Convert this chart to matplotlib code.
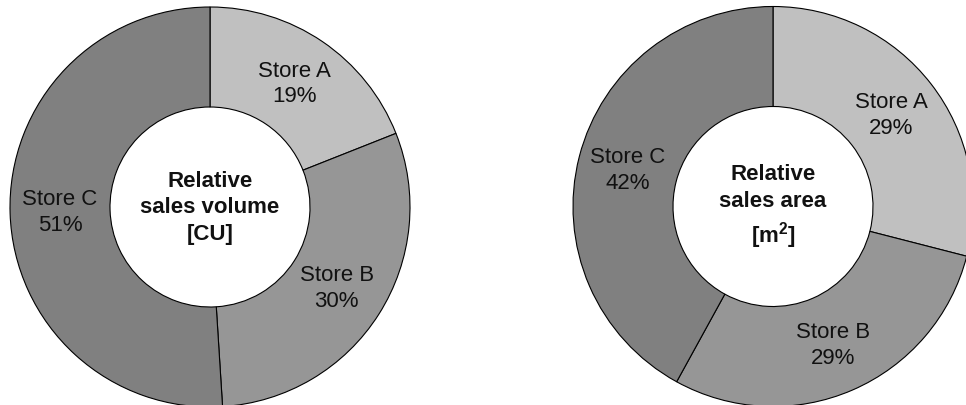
import matplotlib
matplotlib.use("Agg")
import matplotlib.pyplot as plt
import numpy as np

plt.rcParams['font.family'] = ['Liberation Sans', 'DejaVu Sans']
plt.rcParams['mathtext.fontset'] = 'custom'
plt.rcParams['mathtext.rm'] = 'Liberation Sans'
plt.rcParams['mathtext.bf'] = 'Liberation Sans:bold'

stores = ["Store A", "Store B", "Store C"]
volume_share = [19, 30, 51]
area_share = [29, 29, 42]
colors = ["#c0c0c0", "#969696", "#808080"]

W, H = 966, 406


def donut(ax, values, title):
    wedges, _ = ax.pie(values, colors=colors, startangle=90, counterclock=False,
                       radius=1.0,
                       wedgeprops=dict(width=0.5, edgecolor="black", linewidth=0.8))
    for w, name, v in zip(wedges, stores, values):
        ang = np.deg2rad((w.theta1 + w.theta2) / 2)
        ax.text(0.75 * np.cos(ang), 0.75 * np.sin(ang), f"{name}\n{v}%",
                ha="center", va="center", fontsize=16, linespacing=1.3,
                color="#111111")
    ax.text(0, 0, title, ha="center", va="center", fontsize=16,
            fontweight="bold", linespacing=1.35, color="#111111")
    ax.set_xlim(-1, 1)
    ax.set_ylim(-1, 1)
    ax.set_aspect("equal")
    ax.axis("off")


fig = plt.figure(figsize=(W / 100, H / 100), dpi=100)

# both rings are 400 px across, placed by their centres
for cx, cy, vals, title in [(210, 208, volume_share, "Relative\nsales volume\n[CU]"),
                            (773, 207.5, area_share, "Relative\nsales area\n[m$^\\mathbf{2}$]")]:
    ax = fig.add_axes([(cx - 200) / W, (H - cy - 200) / H, 400 / W, 400 / H])
    donut(ax, vals, title)

fig.savefig("out.png", dpi=100)
